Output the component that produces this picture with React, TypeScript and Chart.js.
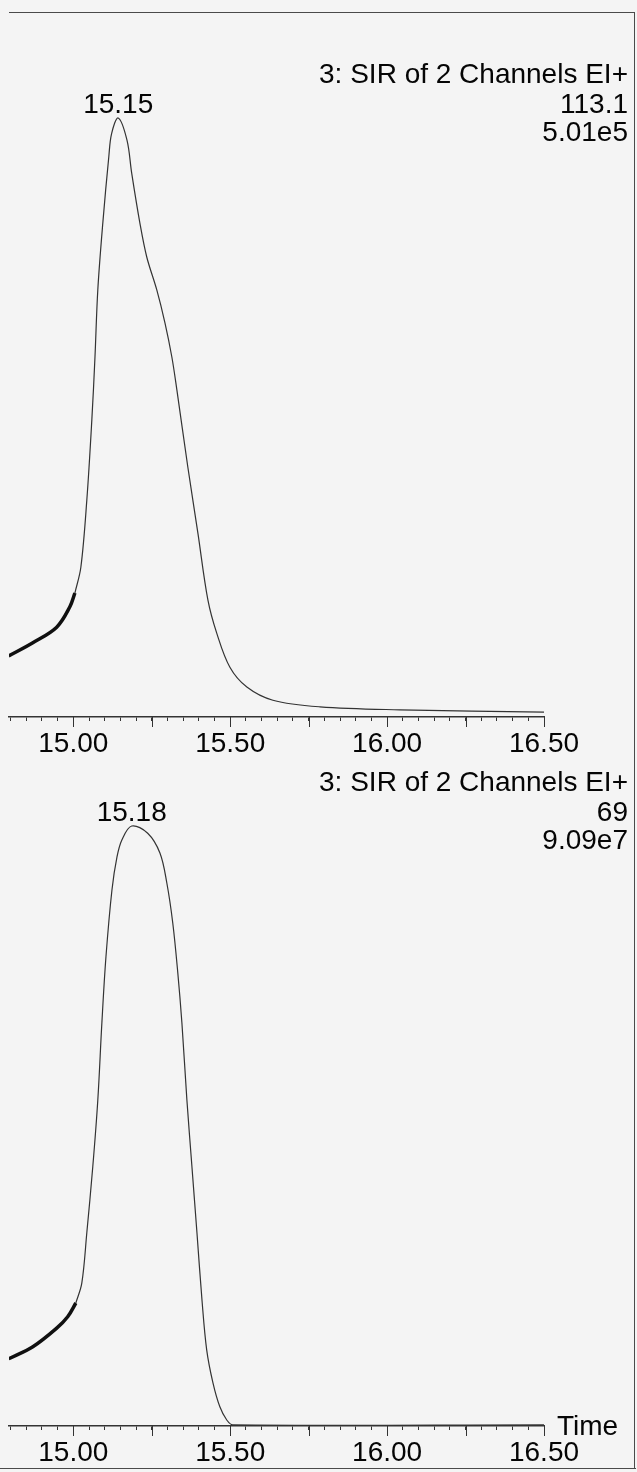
import React, { useEffect, useRef } from "react";
import { Chart, registerables } from "chart.js";

Chart.register(...registerables);

// ---------- shared axis data ----------
const X_MIN = 14.795;
const X_MAX = 16.5;
const MINOR_TICKS = [
  14.8, 14.85, 14.9, 14.95, 15.0, 15.05, 15.1, 15.15, 15.2, 15.25, 15.3, 15.35,
  15.4, 15.45, 15.5, 15.55, 15.6, 15.65, 15.7, 15.75, 15.8, 15.85, 15.9, 15.95,
  16.0, 16.05, 16.1, 16.15, 16.2, 16.25, 16.3, 16.35, 16.4, 16.45, 16.5,
];
const LONG_TICKS = [15.0, 15.25, 15.5, 15.75, 16.0, 16.25, 16.5];
const MAJOR_TICKS = [15.0, 15.5, 16.0, 16.5];
const MAJOR_LABELS = ["15.00", "15.50", "16.00", "16.50"];
const AXIS_TITLE = "Time";

// ---------- top panel (113.1) ----------
const TOP_HEADER = ["3: SIR of 2 Channels EI+", "113.1", "5.01e5"];
const TOP_PEAK_LABEL = "15.15";
const TOP_PRE_TIME = [14.794, 14.871, 14.947, 14.989, 15.005];
const TOP_PRE_INT = [10.2, 12.4, 15.0, 18.4, 20.7];
const TOP_TIME = [
  15.005, 15.024, 15.043, 15.059, 15.069, 15.078, 15.094, 15.113, 15.122,
  15.143, 15.171, 15.186, 15.212, 15.234, 15.266, 15.292, 15.314, 15.33,
  15.365, 15.397, 15.429, 15.457, 15.499, 15.553, 15.636, 15.786,
  16.04, 16.5,
];
const TOP_INT = [
  20.7, 25.0, 36.2, 49.6, 60.1, 71.3, 82.5, 93.5, 97.4, 100, 96.3, 90.8, 82.5,
  76.8, 71.3, 65.8, 60.1, 54.6, 41.7, 30.7, 19.5, 14.0, 8.3, 5.0, 2.8,
  1.7, 1.2, 0.8,
];

// ---------- bottom panel (69) ----------
const BOT_HEADER = ["3: SIR of 2 Channels EI+", "69", "9.09e7"];
const BOT_PEAK_LABEL = "15.18";
const BOT_PRE_TIME = [14.794, 14.871, 14.947, 14.982, 15.008];
const BOT_PRE_INT = [11.2, 13.2, 16.3, 18.2, 20.5];
const BOT_TIME = [
  15.008, 15.027, 15.043, 15.062, 15.078, 15.091, 15.104, 15.123, 15.139,
  15.155, 15.186, 15.237, 15.276, 15.298, 15.317, 15.333, 15.346, 15.362,
  15.378, 15.394, 15.41, 15.425, 15.445, 15.467, 15.489, 15.508, 16.5,
];
const BOT_INT = [
  20.5, 23.8, 32.2, 43.2, 54.3, 67.2, 78.2, 89.3, 94.8, 97.7, 100, 98.8, 95.5,
  90.5, 83.8, 75.5, 67.2, 54.3, 43.2, 32.2, 21.0, 12.7, 7.2, 3.2, 1.0, 0.2, 0.2,
];

// ---------- styling ----------
const FONT_FAMILY = '"Liberation Sans", Arial, Helvetica, sans-serif';
const FONT_SIZE = 28;
const TEXT_COLOR = "#050505";
const AXIS_COLOR = "#333333";
const TRACE_COLOR = "#333333";
const THICK_COLOR = "#101010";
const BG = "#f4f4f4";
const PAGE_W = 637;

type PanelCfg = {
  header: string[];
  peakLabel: string;
  preTime: number[];
  preInt: number[];
  time: number[];
  inten: number[];
  yMax: number;
  topPad: number;
  showTitle: boolean;
};

const zip = (xs: number[], ys: number[]) => xs.map((x, i) => ({ x, y: ys[i] }));

function annotPlugin(cfg: PanelCfg) {
  return {
    id: "annot",
    afterDraw(chart: any) {
      const ctx = chart.ctx as CanvasRenderingContext2D;
      const xs = chart.scales.x;
      const ys = chart.scales.y;
      const area = chart.chartArea;
      ctx.save();
      // longer tick marks every 0.25
      ctx.strokeStyle = AXIS_COLOR;
      ctx.lineWidth = 1;
      for (const v of LONG_TICKS) {
        const px = Math.round(xs.getPixelForValue(v)) + 0.5;
        ctx.beginPath();
        ctx.moveTo(px, area.bottom);
        ctx.lineTo(px, area.bottom + 10);
        ctx.stroke();
      }
      // peak label
      let idx = 0;
      cfg.inten.forEach((v, i) => {
        if (v > cfg.inten[idx]) idx = i;
      });
      const px = xs.getPixelForValue(cfg.time[idx]);
      const py = ys.getPixelForValue(cfg.inten[idx]);
      const row = py - 5;
      ctx.font = `${FONT_SIZE}px ${FONT_FAMILY}`;
      ctx.fillStyle = TEXT_COLOR;
      ctx.textBaseline = "alphabetic";
      ctx.textAlign = "center";
      ctx.fillText(cfg.peakLabel, px, row);
      // header block, right aligned
      ctx.textAlign = "right";
      const right = chart.width - 9;
      ctx.fillText(cfg.header[0], right, row - 30);
      ctx.fillText(cfg.header[1], right, row);
      ctx.fillText(cfg.header[2], right, row + 28);
      if (cfg.showTitle) {
        ctx.textAlign = "left";
        ctx.fillText(AXIS_TITLE, area.right + 13, area.bottom + 9);
      }
      ctx.restore();
    },
  };
}

function Panel({ cfg, top, height }: { cfg: PanelCfg; top: number; height: number }) {
  const ref = useRef<HTMLCanvasElement>(null);
  useEffect(() => {
    const chart = new Chart(ref.current as HTMLCanvasElement, {
      type: "line",
      data: {
        datasets: [
          {
            data: zip(cfg.preTime, cfg.preInt),
            borderColor: THICK_COLOR,
            borderWidth: 3.5,
            pointRadius: 0,
            tension: 0.35,
            fill: false,
          },
          {
            data: zip(cfg.time, cfg.inten),
            borderColor: TRACE_COLOR,
            borderWidth: 1.2,
            pointRadius: 0,
            tension: 0.35,
            fill: false,
          },
        ],
      },
      options: {
        animation: false,
        responsive: false,
        maintainAspectRatio: false,
        parsing: false,
        layout: { padding: { left: 9, right: 93, top: cfg.topPad, bottom: 0 } },
        plugins: { legend: { display: false }, tooltip: { enabled: false } },
        scales: {
          x: {
            type: "linear",
            min: X_MIN,
            max: X_MAX,
            afterBuildTicks: (s: any) => {
              s.ticks = MINOR_TICKS.map((v) => ({ value: v }));
            },
            afterFit: (s: any) => {
              s.height = 43;
            },
            ticks: {
              autoSkip: false,
              maxRotation: 0,
              minRotation: 0,
              padding: 6,
              color: TEXT_COLOR,
              font: { family: FONT_FAMILY, size: FONT_SIZE },
              callback: (v: any) => {
                const i = MAJOR_TICKS.findIndex((m) => Math.abs(m - Number(v)) < 1e-6);
                return i >= 0 ? MAJOR_LABELS[i] : "";
              },
            },
            grid: {
              drawOnChartArea: false,
              drawTicks: true,
              tickLength: 4,
              tickColor: AXIS_COLOR,
              tickWidth: 1,
            },
            border: { display: true, color: AXIS_COLOR, width: 1.5 },
          },
          y: { display: false, min: 0, max: cfg.yMax },
        },
      } as any,
      plugins: [annotPlugin(cfg)],
    });
    return () => chart.destroy();
  }, []);
  return (
    <canvas
      ref={ref}
      width={PAGE_W}
      height={height}
      style={{ position: "absolute", left: 0, top, display: "block" }}
    />
  );
}

const TOP_CFG: PanelCfg = {
  header: TOP_HEADER,
  peakLabel: TOP_PEAK_LABEL,
  preTime: TOP_PRE_TIME,
  preInt: TOP_PRE_INT,
  time: TOP_TIME,
  inten: TOP_INT,
  yMax: 117.7,
  topPad: 12,
  showTitle: false,
};

const BOT_CFG: PanelCfg = {
  header: BOT_HEADER,
  peakLabel: BOT_PEAK_LABEL,
  preTime: BOT_PRE_TIME,
  preInt: BOT_PRE_INT,
  time: BOT_TIME,
  inten: BOT_INT,
  yMax: 111.0,
  topPad: 0,
  showTitle: true,
};

export default function App() {
  useEffect(() => {
    document.body.style.margin = "0";
    document.body.style.background = BG;
  }, []);
  const line = "#4a4a4a";
  return (
    <div style={{ position: "relative", width: PAGE_W, height: 1472, background: BG, overflow: "hidden" }}>
      <Panel cfg={TOP_CFG} top={0} height={760} />
      <Panel cfg={BOT_CFG} top={760} height={709} />
      <div style={{ position: "absolute", left: 9, top: 12, width: 626, height: 0, borderTop: `1.5px solid ${line}` }} />
      <div style={{ position: "absolute", left: 634, top: 12, width: 0, height: 1457, borderLeft: `1.5px solid ${line}` }} />
      <div style={{ position: "absolute", left: 0, top: 1468, width: 636, height: 0, borderTop: `1.5px solid ${line}` }} />
    </div>
  );
}
